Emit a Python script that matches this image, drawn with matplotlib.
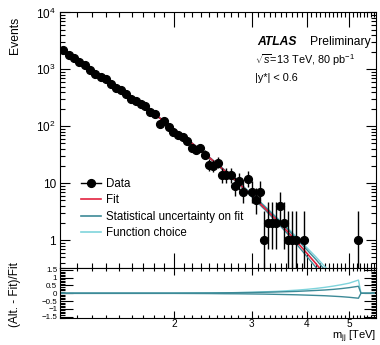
import math
import numpy as np
import matplotlib
matplotlib.use("Agg")
import matplotlib.pyplot as plt
from matplotlib.ticker import FixedLocator, FixedFormatter, NullFormatter
from matplotlib.lines import Line2D

plt.rcParams['font.family'] = ['Liberation Sans', 'DejaVu Sans']
plt.rcParams['mathtext.fontset'] = 'custom'
plt.rcParams['mathtext.rm'] = 'Liberation Sans'
plt.rcParams['mathtext.it'] = 'Liberation Sans:italic'
plt.rcParams['mathtext.bf'] = 'Liberation Sans:bold'

# ---- data (bin centres in TeV, events) ----
mass = [1.116, 1.150, 1.183, 1.217, 1.252, 1.287, 1.323, 1.360, 1.397, 1.435,
        1.474, 1.513, 1.553, 1.594, 1.635, 1.677, 1.720, 1.763, 1.808, 1.853,
        1.898, 1.945, 1.992, 2.041, 2.090, 2.139, 2.190, 2.241, 2.294, 2.347,
        2.402, 2.457, 2.514, 2.571, 2.630, 2.689, 2.750, 2.811, 2.874, 2.937,
        3.002, 3.067, 3.134, 3.201, 3.270, 3.341, 3.412, 3.485, 3.559, 3.634,
        3.711, 3.788, 3.948, 5.226]
events = [2213, 1786, 1554, 1359, 1203, 970, 845, 748, 673, 550,
          467, 430, 375, 306, 279, 244, 225, 178, 162, 108,
          124, 98, 80, 70, 65, 55, 42, 39, 42, 32,
          21, 20, 23, 14, 14, 14, 9, 11, 7, 12,
          7, 5, 7, 1, 2, 2, 2, 4, 2, 1,
          1, 1, 1, 1]

# ---- fit curve and relative variations ----
grid = [1.10, 1.2, 1.3, 1.4, 1.5, 1.6, 1.7, 1.8, 1.9, 2.0, 2.2, 2.4, 2.6, 2.8,
        3.0, 3.2, 3.4, 3.6, 3.8, 4.0, 4.2, 4.4, 4.6, 4.8, 5.0, 5.25, 5.32, 5.7]
fit = [2355, 1514, 1000, 676, 466, 326, 232, 167, 121, 89, 49.8, 28.6, 16.8, 10.1,
       6.1, 3.78, 2.36, 1.49, 0.94, 0.60, 0.39, 0.25, 0.163, 0.107, 0.070, 0.042,
       0.036, 0.017]
stat_up = [0.01, 0.01, 0.01, 0.01, 0.01, 0.01, 0.01, 0.01, 0.01, 0.01, 0.015, 0.02,
           0.03, 0.04, 0.05, 0.065, 0.08, 0.10, 0.12, 0.15, 0.18, 0.21, 0.25, 0.30,
           0.36, 0.45, 0.0, 0.0]
stat_dn = [-0.01, -0.01, -0.01, -0.01, -0.01, -0.01, -0.01, -0.01, -0.01, -0.01,
           -0.015, -0.02, -0.03, -0.035, -0.045, -0.055, -0.07, -0.085, -0.10, -0.12,
           -0.14, -0.16, -0.19, -0.22, -0.26, -0.32, 0.0, 0.0]
alt_fn = [0.0, 0.0, 0.0, 0.0, 0.0, 0.0, 0.0, 0.0, 0.0, 0.0, 0.01, 0.015, 0.025, 0.04,
          0.06, 0.09, 0.12, 0.16, 0.20, 0.25, 0.31, 0.38, 0.46, 0.55, 0.65, 0.85,
          0.0, 0.0]

RED = '#e3233f'
TEAL = '#3d8a97'
CYAN = '#7fd4dc'


def pois_cdf(k, mu):
    s, term = 0.0, math.exp(-mu)
    for i in range(k + 1):
        if i > 0:
            term *= mu / i
        s += term
    return s


def garwood(n):
    a = (1 - 0.682689) / 2
    if n > 30:
        return n - math.sqrt(n), n + math.sqrt(n)
    lo = 0.0
    if n > 0:
        l, h = 0.0, float(n)
        for _ in range(60):
            m = 0.5 * (l + h)
            if 1 - pois_cdf(n - 1, m) < a:
                l = m
            else:
                h = m
        lo = 0.5 * (l + h)
    l, h = float(n), n + 10 * math.sqrt(n + 1) + 10
    for _ in range(60):
        m = 0.5 * (l + h)
        if pois_cdf(n, m) > a:
            l = m
        else:
            h = m
    return lo, 0.5 * (l + h)


fig = plt.figure(figsize=(3.8, 3.45), dpi=100)
ax = fig.add_axes([0.158, 0.222, 0.831, 0.742])
axr = fig.add_axes([0.158, 0.078, 0.831, 0.144], sharex=ax)

g = np.array(grid)
f = np.array(fit)
su = np.array(stat_up)
sd = np.array(stat_dn)
af = np.array(alt_fn)

ax.plot(g, f * (1 + af), color=CYAN, lw=1.0)
ax.plot(g, f * (1 + su), color=TEAL, lw=1.0)
ax.plot(g, f * (1 + sd), color=TEAL, lw=1.0)
ax.plot(g, f, color=RED, lw=1.2)

m = np.array(mass)
n = np.array(events)
lo = np.array([n_ - garwood(int(n_))[0] for n_ in n])
hi = np.array([garwood(int(n_))[1] - n_ for n_ in n])
ax.errorbar(m, n, yerr=[lo, hi], fmt='o', color='black', ms=5.6, lw=1.0, capsize=0)

ax.set_xscale('log')
ax.set_yscale('log')
ax.set_xlim(1.1, 5.75)
ax.set_ylim(0.32, 1.0e4)

xmaj = [2, 3, 4, 5]
xmin = [round(1.1 + 0.1 * i, 1) for i in range(47)]
xmin = [v for v in xmin if v not in (2.0, 3.0, 4.0, 5.0)]
ax.xaxis.set_major_locator(FixedLocator(xmaj))
ax.xaxis.set_minor_locator(FixedLocator(xmin))
ax.xaxis.set_major_formatter(FixedFormatter(['2', '3', '4', '5']))
ax.xaxis.set_minor_formatter(NullFormatter())
ax.tick_params(axis='x', labelbottom=False)

ymaj = [1, 10, 100, 1000, 10000]
ax.yaxis.set_major_locator(FixedLocator(ymaj))
ax.yaxis.set_major_formatter(FixedFormatter(['1', '10', '$10^{2}$', '$10^{3}$', '$10^{4}$']))
ymin = [k * 10 ** e for e in range(-1, 4) for k in range(2, 10)]
ax.yaxis.set_minor_locator(FixedLocator(ymin))
ax.yaxis.set_minor_formatter(NullFormatter())

ax.tick_params(axis='both', which='both', direction='in', top=True, right=True,
               labelsize=8.5, width=0.8, pad=3)
ax.tick_params(axis='y', which='major', length=7)
ax.tick_params(axis='y', which='minor', length=3.5)
ax.tick_params(axis='x', which='major', length=11)
ax.tick_params(axis='x', which='minor', length=3.5)
for s in ax.spines.values():
    s.set_linewidth(0.8)

# text
ax.text(0.623, 0.885, 'ATLAS', transform=ax.transAxes, fontsize=8.7,
        fontweight='bold', fontstyle='italic', va='center', ha='left')
ax.text(0.79, 0.885, 'Preliminary', transform=ax.transAxes, fontsize=8.7,
        va='center', ha='left')
ax.text(0.617, 0.814, r'$\sqrt{s}$=13 TeV, 80 pb$^{-1}$', transform=ax.transAxes,
        fontsize=7.8, va='center', ha='left')
ax.text(0.617, 0.742, '|y*| < 0.6', transform=ax.transAxes, fontsize=7.8,
        va='center', ha='left')

handles = [Line2D([], [], color='black', marker='o', ms=5.6, lw=1.0),
           Line2D([], [], color=RED, lw=1.2),
           Line2D([], [], color=TEAL, lw=1.2),
           Line2D([], [], color=CYAN, lw=1.2)]
labels = ['Data', 'Fit', 'Statistical uncertainty on fit', 'Function choice']
ax.legend(handles, labels, loc='upper left', bbox_to_anchor=(0.066, 0.352),
          frameon=False, fontsize=8.3, handlelength=1.75, handletextpad=0.45,
          labelspacing=0.36, borderpad=0.0, borderaxespad=0.0)

# ratio panel
axr.plot(g, af, color=CYAN, lw=1.0)
axr.plot(g, su, color=TEAL, lw=1.0)
axr.plot(g, sd, color=TEAL, lw=1.0)
axr.set_ylim(-1.6, 1.6)
axr.yaxis.set_major_locator(FixedLocator([-1.5, -1, -0.5, 0, 0.5, 1, 1.5]))
axr.yaxis.set_major_formatter(FixedFormatter(['\u22121.5', '\u22121', '\u22120.5', '0', '0.5', '1', '1.5']))
axr.yaxis.set_minor_locator(FixedLocator([round(-1.6 + 0.1 * i, 1) for i in range(33)]))
axr.yaxis.set_minor_formatter(NullFormatter())
axr.xaxis.set_major_locator(FixedLocator(xmaj))
axr.xaxis.set_minor_locator(FixedLocator(xmin))
axr.xaxis.set_major_formatter(FixedFormatter(['2', '3', '4', '5']))
axr.xaxis.set_minor_formatter(NullFormatter())
axr.tick_params(axis='both', which='both', direction='in', top=True, right=True, width=0.8)
axr.tick_params(axis='x', which='major', length=5, labelsize=7.2, pad=0.5)
axr.tick_params(axis='x', which='minor', length=2.5)
axr.tick_params(axis='y', which='major', length=9, labelsize=5.8, pad=2)
axr.tick_params(axis='y', which='minor', length=3.5)
for s in axr.spines.values():
    s.set_linewidth(0.8)

fig.text(0.04, 0.952, 'Events', rotation=90, ha='center', va='top', fontsize=8.7)
fig.text(0.04, 0.145, '(Alt. - Fit)/Fit', rotation=90, ha='center', va='center', fontsize=8.5)
fig.text(0.989, 0.016, r'm$_{\mathrm{jj}}$ [TeV]', ha='right', va='baseline', fontsize=8.0)

fig.savefig('out.png', dpi=100)
